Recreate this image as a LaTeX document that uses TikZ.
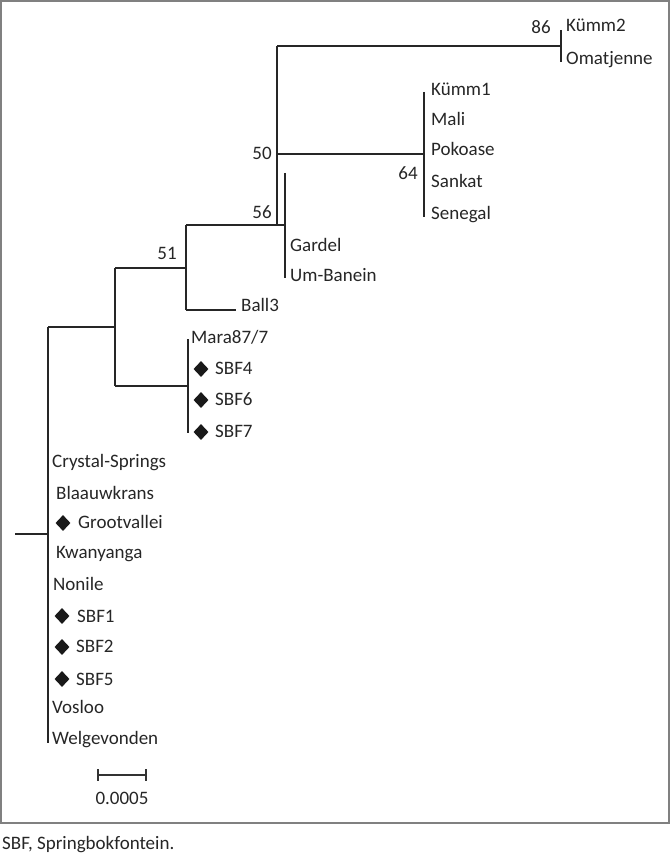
\documentclass[tikz,border=0pt]{standalone}
\usepackage{fontspec}
\setmainfont{Carlito}
\usetikzlibrary{shapes.geometric}
\begin{document}
\begin{tikzpicture}[x=1pt,y=-1pt,
  branch/.style={line width=2pt,draw=black!85},
  lab/.style={anchor=base west,inner sep=0pt,font=\fontsize{19}{23}\selectfont,text=black!85},
  sup/.style={anchor=base,inner sep=0pt,font=\fontsize{19}{23}\selectfont,text=black!85},
  mark/.style={},
  dia/.style={diamond,fill=black!90,inner sep=0pt,minimum width=15pt,minimum height=16pt}]
\useasboundingbox (0,0) rectangle (670,853);
\draw[line width=2pt,draw=black!50] (1,1) rectangle (669,823);
% internal coordinates
\coordinate (root) at (15,534);
\coordinate (rootv) at (48,534);
\coordinate (mtop) at (48,327);
\coordinate (mbot) at (48,743);
\coordinate (aV) at (115,327);
\coordinate (aTop) at (115,268);
\coordinate (aBot) at (115,386);
\coordinate (bTop) at (186,225);
\coordinate (bMid) at (186,268);
\coordinate (bBot) at (186,310);
\coordinate (ball) at (236,310);
\coordinate (sTop) at (188,339);
\coordinate (sMid) at (188,386);
\coordinate (sBot) at (188,433);
\coordinate (cJ) at (277,225);
\coordinate (cEnd) at (285,225);
\coordinate (gTop) at (285,173);
\coordinate (gBot) at (285,278);
\coordinate (cTop) at (277,46);
\coordinate (cMid) at (277,154);
\coordinate (kMid) at (561,46);
\coordinate (kTop) at (561,30);
\coordinate (kBot) at (561,62);
\coordinate (pMid) at (424,154);
\coordinate (pTop) at (424,92);
\coordinate (pBot) at (424,217);
% branches
\draw[branch] (root) -- (rootv);
\draw[branch] (mtop) -- (mbot);
\draw[branch] (mtop) -- (aV);
\draw[branch] (aTop) -- (aBot);
\draw[branch] (aTop) -- (bMid);
\draw[branch] (aBot) -- (sMid);
\draw[branch] (sTop) -- (sBot);
\draw[branch] (bTop) -- (bBot);
\draw[branch] (bBot) -- (ball);
\draw[branch] (bTop) -- (cEnd);
\draw[branch] (gTop) -- (gBot);
\draw[branch] (cJ) -- (cTop);
\draw[branch] (cTop) -- (kMid);
\draw[branch] (kTop) -- (kBot);
\draw[branch] (cMid) -- (pMid);
\draw[branch] (pTop) -- (pBot);
% support values
\node[sup] (s86) at (541,34) {86};
\node[sup] (s64) at (408,179) {64};
\node[sup] (s50) at (262,160) {50};
\node[sup] (s56) at (262,218) {56};
\node[sup] (s51) at (167,259) {51};
% leaf labels
\node[lab] (kumm2) at (566,32) {Kümm2};
\node[lab] (omat) at (566,65) {Omatjenne};
\node[lab] (kumm1) at (431,96) {Kümm1};
\node[lab] (mali) at (431,126) {Mali};
\node[lab] (poko) at (431,156) {Pokoase};
\node[lab] (sank) at (431,187) {Sankat};
\node[lab] (sene) at (431,219) {Senegal};
\node[lab] (gard) at (290,251) {Gardel};
\node[lab] (umb) at (290,281) {Um-Banein};
\node[lab] (ball3) at (241,311) {Ball3};
\node[lab] (mara) at (191,343) {Mara87/7};
\node[dia] (d4) at (201,369) {};
\node[lab] (sbf4) at (215,374) {SBF4};
\node[dia] (d6) at (201,400) {};
\node[lab] (sbf6) at (215,405) {SBF6};
\node[dia] (d7) at (201,432) {};
\node[lab] (sbf7) at (215,437) {SBF7};
\node[lab] (crys) at (52,467) {Crystal-Springs};
\node[lab] (blaa) at (56,499) {Blaauwkrans};
\node[dia] (dg) at (63,523) {};
\node[lab] (groo) at (78,528) {Grootvallei};
\node[lab] (kwan) at (56,558) {Kwanyanga};
\node[lab] (noni) at (53,590) {Nonile};
\node[dia] (d1) at (62,616) {};
\node[lab] (sbf1) at (77,622) {SBF1};
\node[dia] (d2) at (62,647) {};
\node[lab] (sbf2) at (76,652) {SBF2};
\node[dia] (d5) at (62,679) {};
\node[lab] (sbf5) at (76,685) {SBF5};
\node[lab] (vosl) at (52,713) {Vosloo};
\node[lab] (welg) at (52,744) {Welgevonden};
% scale bar
\coordinate (sbL) at (98,775);
\coordinate (sbR) at (146,775);
\draw[line width=1.6pt,draw=black!80] (sbL) -- (sbR);
\draw[line width=1.6pt,draw=black!80] (98,769) -- (98,781);
\draw[line width=1.6pt,draw=black!80] (146,769) -- (146,781);
\node[sup] (scale) at (122,804) {0.0005};
% caption
\node[lab] (cap) at (2,849) {SBF, Springbokfontein.};
\end{tikzpicture}
\end{document}
